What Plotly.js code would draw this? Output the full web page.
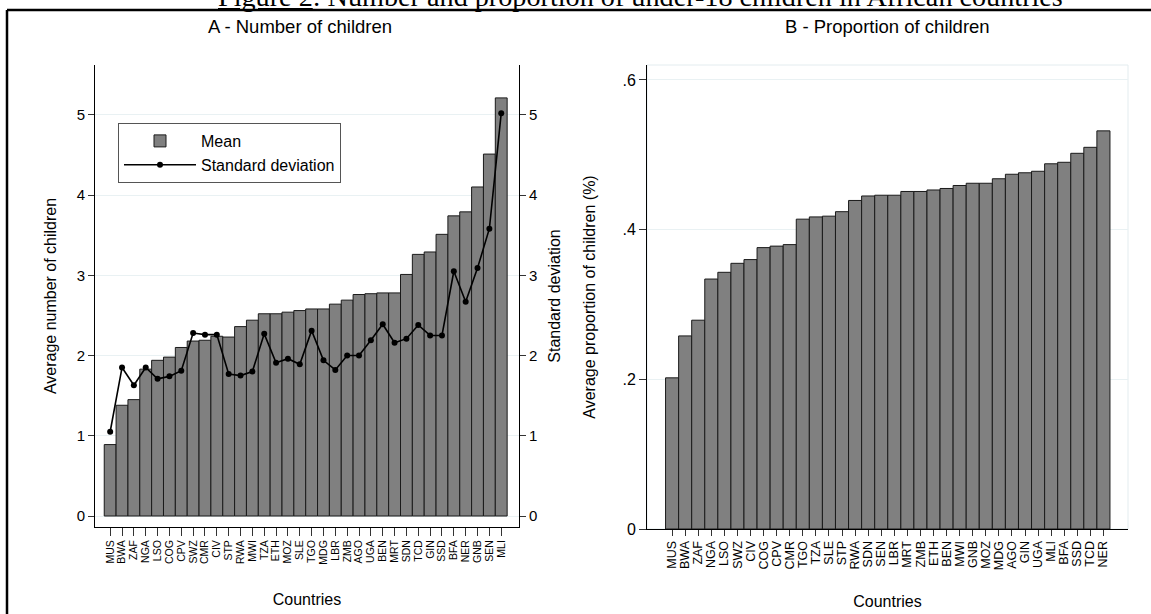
<!DOCTYPE html>
<html><head><meta charset="utf-8">
<script src="https://cdn.plot.ly/plotly-3.0.1.min.js"></script>
<style>html,body{margin:0;padding:0;background:#fff;} #chart{width:1151px;height:614px;}</style>
</head><body><div id="chart"></div>
<script>
// Panel A: countries sorted by mean number of children
const countriesA = ['MUS','BWA','ZAF','NGA','LSO','COG','CPV','SWZ','CMR','CIV','STP','RWA','MWI','TZA','ETH','MOZ','SLE','TGO','MDG','LBR','ZMB','AGO','UGA','BEN','MRT','SDN','TCD','GIN','SSD','BFA','NER','GNB','SEN','MLI'];
const meanChildren = [0.89,1.38,1.45,1.83,1.94,1.98,2.10,2.18,2.19,2.24,2.23,2.36,2.44,2.52,2.52,2.54,2.56,2.58,2.58,2.64,2.69,2.76,2.77,2.78,2.78,3.01,3.26,3.29,3.51,3.74,3.79,4.10,4.51,5.21];
const sdChildren = [1.05,1.85,1.63,1.85,1.71,1.74,1.81,2.28,2.26,2.26,1.77,1.75,1.80,2.27,1.91,1.96,1.89,2.31,1.94,1.82,2.00,2.00,2.19,2.39,2.16,2.21,2.38,2.25,2.25,3.05,2.67,3.09,3.58,5.02];
// Panel B: countries sorted by proportion of children
const countriesB = ['MUS','BWA','ZAF','NGA','LSO','SWZ','CIV','COG','CPV','CMR','TGO','TZA','SLE','STP','RWA','SDN','SEN','LBR','MRT','ZMB','ETH','BEN','MWI','GNB','MOZ','MDG','AGO','GIN','UGA','MLI','BFA','SSD','TCD','NER'];
const propChildren = [0.202,0.258,0.279,0.334,0.343,0.355,0.360,0.376,0.378,0.380,0.414,0.417,0.418,0.424,0.439,0.445,0.446,0.446,0.451,0.451,0.453,0.455,0.459,0.462,0.462,0.468,0.474,0.476,0.478,0.488,0.490,0.502,0.510,0.532];
const yTicksA = [0,1,2,3,4,5];
const yTicksB = [0,0.2,0.4,0.6];
const yTickTextB = ['0','.2','.4','.6'];

const FONT = 'Liberation Sans, Arial, sans-serif';
const GRID = '#e9f1f3';
const BAR = '#808080';

const traces = [
  {type:'bar', x:countriesA, y:meanChildren, xaxis:'x', yaxis:'y', name:'Mean',
   marker:{color:BAR, line:{color:'#1a1a1a', width:1}}},
  {type:'scatter', mode:'lines+markers', x:countriesA, y:sdChildren, xaxis:'x', yaxis:'y2',
   name:'Standard deviation', line:{color:'#000', width:1.6}, marker:{color:'#000', size:6}},
  {type:'bar', x:countriesB, y:propChildren, xaxis:'x2', yaxis:'y3', name:'Proportion', showlegend:false,
   marker:{color:BAR, line:{color:'#1a1a1a', width:1}}}
];

const W = 1151, H = 614;
const px = v => v / W, py = v => 1 - v / H;

const layout = {
  width:W, height:H, margin:{l:0,r:0,t:0,b:0},
  paper_bgcolor:'#fff', plot_bgcolor:'#fff',
  font:{family:FONT, color:'#000'},
  bargap:0, showlegend:true,
  legend:{x:px(118), y:py(123), xanchor:'left', yanchor:'top', bgcolor:'#fff',
    bordercolor:'#555', borderwidth:1, font:{size:16, family:FONT}, itemwidth:72, tracegroupgap:0},
  xaxis:{domain:[px(95), px(519)], anchor:'y', type:'category', range:[-1.28, 34.5],
    tickmode:'array', tickvals:countriesA, ticktext:countriesA,
    tickangle:-90, ticks:'outside', ticklen:8, tickcolor:'#333', tickfont:{size:10.5},
    showline:true, linecolor:'#000', linewidth:1, showgrid:false, zeroline:false,
    title:{text:'Countries', font:{size:16}, standoff:30}},
  yaxis:{domain:[py(527), py(65)], anchor:'x', range:[-0.137, 5.62], tickvals:yTicksA,
    ticks:'outside', ticklen:6, tickcolor:'#333', tickfont:{size:15},
    showline:true, linecolor:'#000', linewidth:1, showgrid:true, gridcolor:GRID, zeroline:false,
    title:{text:'Average number of children', font:{size:16}, standoff:16}},
  yaxis2:{overlaying:'y', side:'right', anchor:'x', range:[-0.137, 5.62], tickvals:yTicksA,
    ticks:'outside', ticklen:6, tickcolor:'#333', tickfont:{size:15},
    showline:true, linecolor:'#000', linewidth:1, showgrid:false, zeroline:false,
    title:{text:'Standard deviation', font:{size:16}, standoff:12}},
  xaxis2:{domain:[px(647), px(1128)], anchor:'y3', type:'category', range:[-1.92, 34.88],
    tickmode:'array', tickvals:countriesB, ticktext:countriesB,
    tickangle:-90, ticks:'outside', ticklen:6, tickcolor:'#333', tickfont:{size:12.5},
    showline:true, linecolor:'#000', linewidth:1, showgrid:false, zeroline:false,
    title:{text:'Countries', font:{size:16}, standoff:26}},
  yaxis3:{domain:[py(529), py(65)], anchor:'x2', range:[0, 0.62], tickvals:yTicksB, ticktext:yTickTextB,
    ticks:'outside', ticklen:7, tickcolor:'#333', tickfont:{size:16},
    showline:true, linecolor:'#000', linewidth:1, showgrid:true, gridcolor:GRID, zeroline:false,
    title:{text:'Average proportion of children (%)', font:{size:16}, standoff:22}},
  shapes:[
    {type:'rect', xref:'x2 domain', yref:'y3 domain', x0:0, x1:1, y0:0, y1:1,
     line:{color:'#e3ecef', width:1}, layer:'below'},
    {type:'line', xref:'paper', yref:'paper', x0:px(7), x1:1, y0:py(10), y1:py(10), line:{color:'#000', width:2.5}},
    {type:'line', xref:'paper', yref:'paper', x0:px(7), x1:px(7), y0:py(10), y1:0, line:{color:'#000', width:2.5}}
  ],
  annotations:[
    {text:'A - Number of children', xref:'paper', yref:'paper', x:px(300), y:py(26),
     xanchor:'center', yanchor:'middle', showarrow:false, font:{size:18.5, family:FONT}},
    {text:'B - Proportion of children', xref:'paper', yref:'paper', x:px(887), y:py(26),
     xanchor:'center', yanchor:'middle', showarrow:false, font:{size:18.5, family:FONT}},
    {text:'<u>Figure 2</u>: Number and proportion of under-18 children in African countries',
     xref:'paper', yref:'paper', x:px(640), y:py(14), xanchor:'center', yanchor:'bottom',
     showarrow:false, font:{size:28.2, family:'Liberation Serif, Times New Roman, serif', color:'#000'}}
  ]
};

Plotly.newPlot('chart', traces, layout, {displayModeBar:false, staticPlot:true});
</script>
</body></html>
